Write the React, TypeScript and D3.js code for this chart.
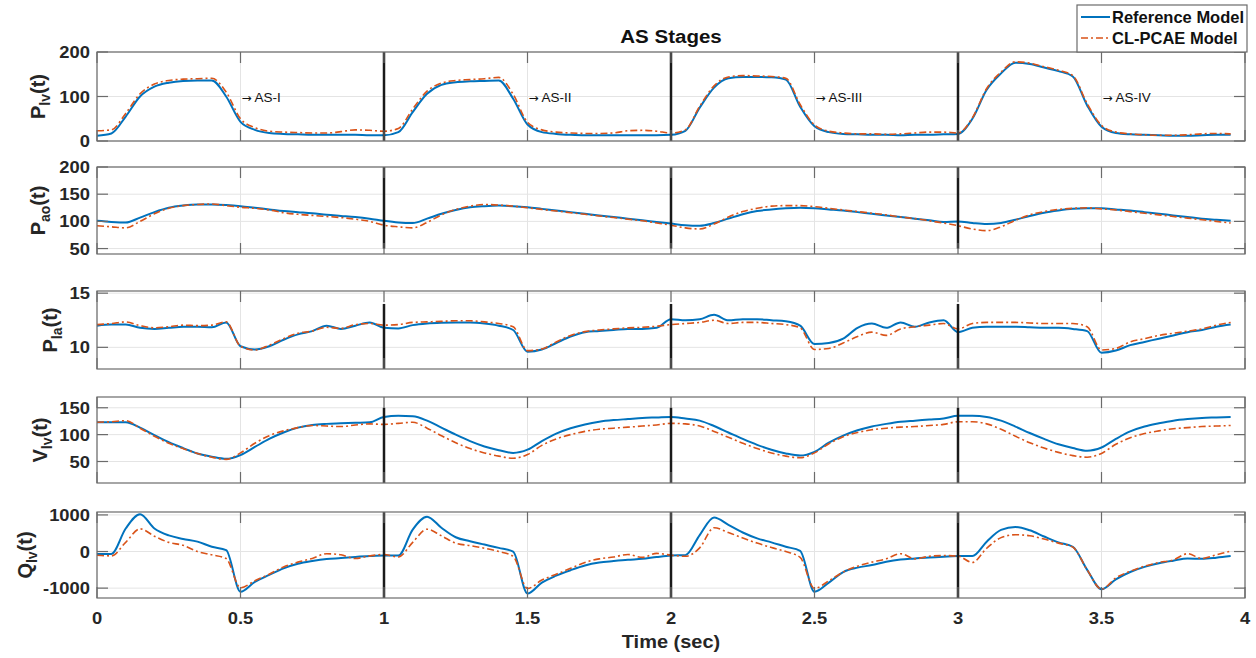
import React from "react";
import * as d3 from "d3";

// sample times (s), 20 per cardiac cycle
const timeSec = [
  0, 0.05, 0.1, 0.15, 0.2, 0.25, 0.3, 0.35, 0.4, 0.45, 0.5, 0.55, 0.6, 0.65, 0.7, 0.75, 0.8, 0.85, 0.9, 0.95,
  1, 1.05, 1.1, 1.15, 1.2, 1.25, 1.3, 1.35, 1.4, 1.45, 1.5, 1.55, 1.6, 1.65, 1.7, 1.75, 1.8, 1.85, 1.9, 1.95,
  2, 2.05, 2.1, 2.15, 2.2, 2.25, 2.3, 2.35, 2.4, 2.45, 2.5, 2.55, 2.6, 2.65, 2.7, 2.75, 2.8, 2.85, 2.9, 2.95,
  3, 3.05, 3.1, 3.15, 3.2, 3.25, 3.3, 3.35, 3.4, 3.45, 3.5, 3.55, 3.6, 3.65, 3.7, 3.75, 3.8, 3.85, 3.9, 3.95,
];

const plvRef = [
  12, 17, 55, 100, 122, 131, 135, 136, 136, 100, 43, 25, 18, 16, 15, 14, 14, 14, 14, 13,
  13, 20, 65, 106, 126, 132, 134, 135, 136, 95, 37, 20, 16, 14, 13, 13, 13, 13, 13, 13,
  14, 23, 75, 120, 141, 144, 144, 143, 138, 77, 33, 20, 16, 15, 14, 14, 13, 14, 14, 15,
  16, 50, 115, 152, 176, 173, 165, 157, 145, 80, 32, 18, 15, 14, 13, 12, 12, 13, 14, 14,
];
const plvModel = [
  23, 25, 62, 106, 128, 136, 139, 140, 141, 110, 50, 30, 22, 20, 19, 18, 18, 21, 25, 24,
  22, 28, 72, 112, 130, 136, 138, 140, 143, 105, 42, 25, 20, 18, 17, 17, 18, 23, 24, 22,
  18, 25, 78, 124, 144, 147, 146, 145, 141, 82, 36, 22, 18, 16, 16, 15, 16, 18, 20, 20,
  18, 52, 118, 155, 178, 175, 167, 159, 147, 84, 35, 20, 16, 14, 13, 13, 14, 16, 17, 16,
];

const paoRef = [
  101, 99, 98, 107, 117, 125, 129, 131, 131, 130, 128, 125, 122, 119, 117, 115, 112, 110, 108, 105,
  101, 98, 97, 105, 114, 121, 126, 128, 129, 128, 126, 123, 120, 117, 114, 111, 108, 105, 102, 99,
  96, 93, 92, 97, 105, 113, 119, 122, 124, 125, 124, 122, 120, 117, 114, 111, 108, 105, 102, 99,
  100, 97, 95, 97, 103, 110, 116, 120, 123, 124, 124, 122, 120, 117, 114, 111, 108, 105, 103, 101,
];
const paoModel = [
  92, 90, 88, 100, 114, 124, 129, 131, 132, 129, 126, 124, 121, 116, 113, 111, 109, 107, 104, 100,
  93, 90, 88, 98, 112, 122, 128, 131, 130, 128, 125, 122, 119, 116, 113, 110, 107, 104, 101, 97,
  93, 88, 86, 95, 108, 118, 124, 128, 129, 129, 127, 124, 121, 118, 115, 112, 108, 105, 101, 97,
  92, 86, 83, 90, 102, 112, 118, 122, 124, 125, 123, 121, 118, 115, 112, 109, 106, 103, 100, 97,
];

const plaRef = [
  12.0, 12.1, 12.1, 11.8, 11.7, 11.8, 11.9, 11.9, 11.85, 12.3, 10.1, 9.8, 10.1, 10.7, 11.2, 11.5, 12.0, 11.7, 12.0, 12.3,
  11.8, 11.75, 12.05, 12.2, 12.27, 12.3, 12.3, 12.2, 12.0, 11.6, 9.6, 9.8, 10.4, 11.0, 11.4, 11.5, 11.6, 11.7, 11.7, 11.8,
  12.6, 12.5, 12.6, 13.0, 12.5, 12.6, 12.6, 12.5, 12.4, 12.0, 10.3, 10.4, 10.8, 11.8, 12.2, 11.8, 12.3, 11.9, 12.3, 12.5,
  11.4, 11.8, 11.9, 11.9, 11.9, 11.85, 11.8, 11.8, 11.7, 11.5, 9.5, 9.7, 10.2, 10.5, 10.8, 11.1, 11.4, 11.6, 11.9, 12.1,
];
const plaModel = [
  12.1, 12.2, 12.35, 12.0, 11.8, 11.9, 12.05, 12.0, 12.05, 12.35, 10.1, 9.75, 10.2, 10.8, 11.3, 11.5, 11.85, 11.75, 12.1, 12.2,
  12.05, 12.1, 12.3, 12.35, 12.4, 12.45, 12.45, 12.35, 12.2, 11.9, 9.7, 9.85, 10.5, 11.1, 11.45, 11.6, 11.7, 11.8, 11.85, 11.95,
  12.1, 12.2, 12.3, 12.5, 12.2, 12.3, 12.3, 12.2, 12.1, 11.8, 9.8, 9.9, 10.4, 11.0, 11.4, 11.1, 11.7, 11.9, 12.05, 12.2,
  11.7, 12.2, 12.3, 12.3, 12.3, 12.25, 12.2, 12.2, 12.2, 11.9, 9.75, 9.9, 10.5, 10.8, 11.1, 11.3, 11.5, 11.7, 12.05, 12.3,
];

const vlvRef = [
  123, 123, 123, 113, 99, 86, 75, 65, 59, 55, 62, 77, 92, 104, 113, 118, 120, 121, 122, 123,
  133, 135, 134, 126, 113, 100, 88, 78, 71, 66, 72, 88, 102, 112, 119, 124, 127, 129, 131, 132,
  133, 130, 126, 116, 104, 92, 81, 72, 65, 61, 68, 85, 98, 108, 115, 120, 124, 126, 128, 130,
  135, 135, 133, 126, 115, 103, 92, 82, 75, 70, 76, 92, 106, 115, 121, 126, 129, 131, 132, 133,
];
const vlvModel = [
  123, 124, 126, 112, 97, 84, 74, 65, 58, 54, 66, 84, 98, 107, 113, 117, 116, 115, 118, 120,
  119, 121, 123, 112, 98, 85, 74, 66, 60, 56, 63, 80, 92, 100, 106, 110, 112, 114, 116, 118,
  121, 120, 116, 106, 95, 84, 74, 66, 60, 57, 66, 83, 96, 104, 109, 112, 114, 115, 117, 119,
  124, 124, 120, 110, 97, 85, 75, 67, 61, 58, 65, 82, 94, 102, 107, 111, 113, 115, 116, 117,
];

const qlvRef = [
  -70, -65, 630, 1020, 630, 440, 345, 270, 130, 40, -1100, -830, -640, -460, -335, -260, -205, -180, -150, -125,
  -110, -110, 600, 950, 650, 390, 280, 190, 100, 0, -1150, -850, -660, -510, -380, -300, -260, -225, -200, -150,
  -110, -100, 450, 930, 730, 520, 360, 250, 130, 20, -1100, -850, -560, -440, -370, -280, -220, -190, -160, -140,
  -125, -125, 270, 590, 670, 580, 410, 250, 130, -500, -1030, -760, -560, -420, -320, -250, -190, -200, -170, -125,
];
const qlvModel = [
  -100, -120, 250, 620, 420, 250, 170, 0, -90, -190, -990, -800, -620, -420, -290, -190, -60, -90, -190, -120,
  -80, -150, 250, 610, 430, 230, 160, 90, 0, -130, -1010, -780, -620, -460, -300, -200, -150, -80, -160, -50,
  -100, -130, 100, 650, 520, 370, 230, 110, 0, -160, -1010, -800, -560, -400, -290, -200, -60, -200, -130, -110,
  -125, -300, 90, 380, 460, 430, 340, 230, 120, -500, -1030, -720, -540, -400, -300, -230, -60, -190, -90, 10,
];

const xTicks = [0, 0.5, 1, 1.5, 2, 2.5, 3, 3.5, 4];
const stageBounds = [1, 2, 3];
const stageNotes = ["AS-I", "AS-II", "AS-III", "AS-IV"];
const stageNoteTimes = [0.5, 1.5, 2.5, 3.5];
const seriesNames = ["Reference Model", "CL-PCAE Model"];

const FONT = "'Liberation Sans', Arial, Helvetica, sans-serif";
const BLUE = "#0072BD";
const ORANGE = "#D95319";
const AXIS = "#6b6b6b";
const DASH = "7,3,2,3";

const panels = [
  { name: "P", sub: "lv", ref: plvRef, model: plvModel, domain: [0, 200], ticks: [0, 100, 200], top: 52, bottom: 141, labelX: 45, stage: [0, 200] },
  { name: "P", sub: "ao", ref: paoRef, model: paoModel, domain: [40, 200], ticks: [50, 100, 150, 200], top: 167, bottom: 254, labelX: 45, stage: [50, 200] },
  { name: "P", sub: "la", ref: plaRef, model: plaModel, domain: [8, 15.2], ticks: [10, 15], top: 291, bottom: 369, labelX: 57, stage: [8, 14] },
  { name: "V", sub: "lv", ref: vlvRef, model: vlvModel, domain: [10, 170], ticks: [50, 100, 150], top: 397, bottom: 483, labelX: 47, stage: [10, 150] },
  { name: "Q", sub: "lv", ref: qlvRef, model: qlvModel, domain: [-1270, 1080], ticks: [-1000, 0, 1000], top: 512, bottom: 598, labelX: 32, stage: [-1270, 1080] },
];

const x = d3.scaleLinear().domain([0, 4]).range([97, 1245]);
const TICK = 11;

// bold text slightly widened, like the stretched original
const Wide = ({ x: tx, y: ty, anchor = "start", size, children, fill = "#262626", weight = "bold" }) => (
  <text
    transform={`translate(${tx},${ty}) scale(1.08,1)`}
    textAnchor={anchor}
    fontSize={size}
    fontWeight={weight}
    fontFamily={FONT}
    fill={fill}
  >
    {children}
  </text>
);

const Panel = ({ p, idx, last }) => {
  const y = d3.scaleLinear().domain(p.domain).range([p.bottom, p.top]);
  const line = d3
    .line<number>()
    .x((_, i) => x(timeSec[i]))
    .y((d) => y(d))
    .curve(d3.curveMonotoneX);
  const [x0, x1] = x.range();
  const cy = (p.top + p.bottom) / 2;

  return (
    <g>
      {/* grid */}
      {xTicks.map((t) => (
        <line key={"gx" + t} x1={x(t)} x2={x(t)} y1={p.top} y2={p.bottom} stroke="#e4e4e4" />
      ))}
      {p.ticks.map((v) => (
        <line key={"gy" + v} x1={x0} x2={x1} y1={y(v)} y2={y(v)} stroke="#e4e4e4" />
      ))}

      <path d={line(p.ref)} fill="none" stroke={BLUE} strokeWidth={2} strokeLinejoin="round" />
      <path d={line(p.model)} fill="none" stroke={ORANGE} strokeWidth={1.6} strokeDasharray={DASH} strokeLinejoin="round" />

      {stageBounds.map((t) => (
        <line key={"st" + t} x1={x(t)} x2={x(t)} y1={y(p.stage[0])} y2={y(p.stage[1])} stroke="#1a1a1a" strokeWidth={2.5} />
      ))}

      {idx === 0 &&
        stageNotes.map((s, i) => (
          <text key={s} x={x(stageNoteTimes[i]) + 1} y={y(100) + 5} fontSize={13.5} fontFamily={FONT} fill="#111">
            <tspan fontFamily="'DejaVu Sans', sans-serif" fontSize={12}>→</tspan> {s}
          </text>
        ))}

      {/* box + ticks */}
      <rect x={x0} y={p.top} width={x1 - x0} height={p.bottom - p.top} fill="none" stroke={AXIS} strokeWidth={1.2} />
      {xTicks.map((t) => (
        <g key={"tx" + t} stroke={AXIS} strokeWidth={1.2}>
          <line x1={x(t)} x2={x(t)} y1={p.top} y2={p.top + TICK} />
          <line x1={x(t)} x2={x(t)} y1={p.bottom} y2={p.bottom - TICK} />
        </g>
      ))}
      {p.ticks.map((v) => (
        <g key={"ty" + v} stroke={AXIS} strokeWidth={1.2}>
          <line x1={x0} x2={x0 + TICK} y1={y(v)} y2={y(v)} />
          <line x1={x1} x2={x1 - TICK} y1={y(v)} y2={y(v)} />
        </g>
      ))}
      {p.ticks.map((v) => (
        <Wide key={"lt" + v} x={90} y={y(v) + 6} anchor="end" size={17}>
          {v}
        </Wide>
      ))}
      {last &&
        xTicks.map((t) => (
          <Wide key={"lx" + t} x={x(t)} y={624} anchor="middle" size={17}>
            {t}
          </Wide>
        ))}

      <text transform={`translate(${p.labelX},${cy}) rotate(-90)`} textAnchor="middle" fontSize={20} fontWeight="bold" fontFamily={FONT} fill="#262626">
        {p.name}
        <tspan fontSize={14} dy={5}>{p.sub}</tspan>
        <tspan dy={-5}>(t)</tspan>
      </text>
    </g>
  );
};

export default function App() {
  return (
    <div style={{ position: "absolute", left: 0, top: 0 }}>
      <svg width={1256} height={658} style={{ display: "block", background: "#fff" }}>
        <Wide x={671} y={43} anchor="middle" size={19} fill="#111">
          AS Stages
        </Wide>

        {panels.map((p, i) => (
          <Panel key={i} p={p} idx={i} last={i === panels.length - 1} />
        ))}

        <Wide x={671} y={648} anchor="middle" size={18.5}>
          Time (sec)
        </Wide>

        {/* legend */}
        <g>
          <rect x={1077} y={5} width={170} height={47} fill="#fff" stroke={AXIS} strokeWidth={1.2} />
          {seriesNames.map((s, i) => (
            <g key={s}>
              <line
                x1={1081}
                x2={1110}
                y1={17 + i * 21}
                y2={17 + i * 21}
                stroke={i === 0 ? BLUE : ORANGE}
                strokeWidth={i === 0 ? 2 : 1.6}
                strokeDasharray={i === 0 ? undefined : DASH}
              />
              <text x={1112} y={17 + i * 21} dy="0.36em" fontSize={16.5} fontWeight="bold" fontFamily={FONT} fill="#111">
                {s}
              </text>
            </g>
          ))}
        </g>
      </svg>
    </div>
  );
}
